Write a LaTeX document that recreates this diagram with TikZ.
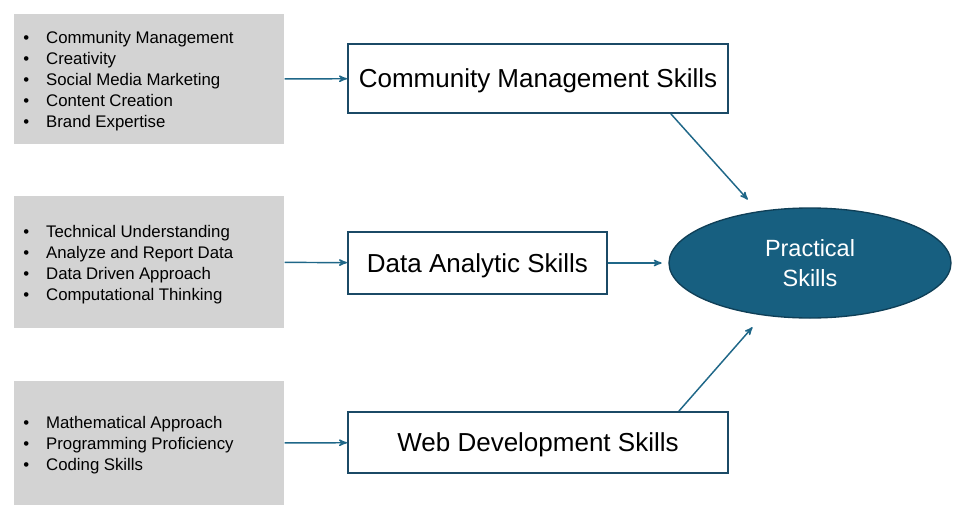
\documentclass[tikz,border=0pt]{standalone}
\usepackage{fontspec}
\setmainfont{Liberation Sans}
\usepackage{tikz}
\usetikzlibrary{arrows}
\usetikzlibrary{positioning}
\usetikzlibrary{shapes.geometric}

\definecolor{arrowblue}{HTML}{1F6788}
\definecolor{boxline}{HTML}{1B4A66}
\definecolor{ovalfill}{HTML}{175F80}
\definecolor{ovalline}{HTML}{0F3F57}
\definecolor{listgray}{HTML}{D3D3D3}

\newcommand{\down}[1]{\raisebox{-1.8pt}[\height][\depth]{#1}}
\newcommand{\itemlist}[1]{\fontsize{12.6}{15.75}\selectfont
  \down{\begin{tabular}{@{}l@{\hspace{12.7pt}}l@{}}#1\end{tabular}}}

\begin{document}
\begin{tikzpicture}[->,>=stealth',x=0.75pt,y=-0.75pt,
                    line width=1.1pt,draw=arrowblue,
                    list node/.style={rectangle,fill=listgray,draw=none,minimum width=202.5pt,
                      text width=188.5pt,inner xsep=7pt,align=left},
                    skill node/.style={rectangle,draw=boxline,line width=1.5pt,fill=white,
                      font=\fontsize{19.5}{23}\selectfont},
                    goal node/.style={ellipse,draw=ovalline,line width=1pt,fill=ovalfill,
                      text=white,align=center,minimum width=211.5pt,minimum height=82.5pt,
                      font=\fontsize{17.6}{22.5}\selectfont}]

  \useasboundingbox (0,0) rectangle (960,525);

  % lists on the left
  \node[list node,minimum height=97.5pt] (L1) at (149,79) {\itemlist{%
    \textbullet & Community Management\\
    \textbullet & Creativity\\
    \textbullet & Social Media Marketing\\
    \textbullet & Content Creation\\
    \textbullet & Brand Expertise}};
  \node[list node,minimum height=99pt] (L2) at (149,262) {\itemlist{%
    \textbullet & Technical Understanding\\
    \textbullet & Analyze and Report Data\\
    \textbullet & Data Driven Approach\\
    \textbullet & Computational Thinking}};
  \node[list node,minimum height=93pt] (L3) at (149,443) {\itemlist{%
    \textbullet & Mathematical Approach\\
    \textbullet & Programming Proficiency\\
    \textbullet & Coding Skills}};

  % skill boxes
  \node[skill node,minimum width=285pt,minimum height=51.75pt] (CM) at (538,78.5) {\down{Community Management Skills}};
  \node[skill node,minimum width=194.25pt,minimum height=46.5pt] (DA) at (477.5,263) {\down{Data Analytic Skills}};
  \node[skill node,minimum width=285pt,minimum height=45.75pt] (WD) at (538,442.5) {\down{Web Development Skills}};

  % result
  \node[goal node] (P) at (810,263) {Practical\\Skills};

  \draw[-, arrowblue]
    (L1) edge[->] (CM)
    (L2) edge[->] (DA)
    (L3) edge[->] (WD)
    (DA) edge[->, shorten >=5pt] (P)
    ([xshift=-43.5pt]CM.south east) edge[->, shorten >=11.7pt] (P.135)
    ([xshift=-37.5pt]WD.north east) edge[->, shorten >=11.7pt] (P.228)
    ;
\end{tikzpicture}
\end{document}
